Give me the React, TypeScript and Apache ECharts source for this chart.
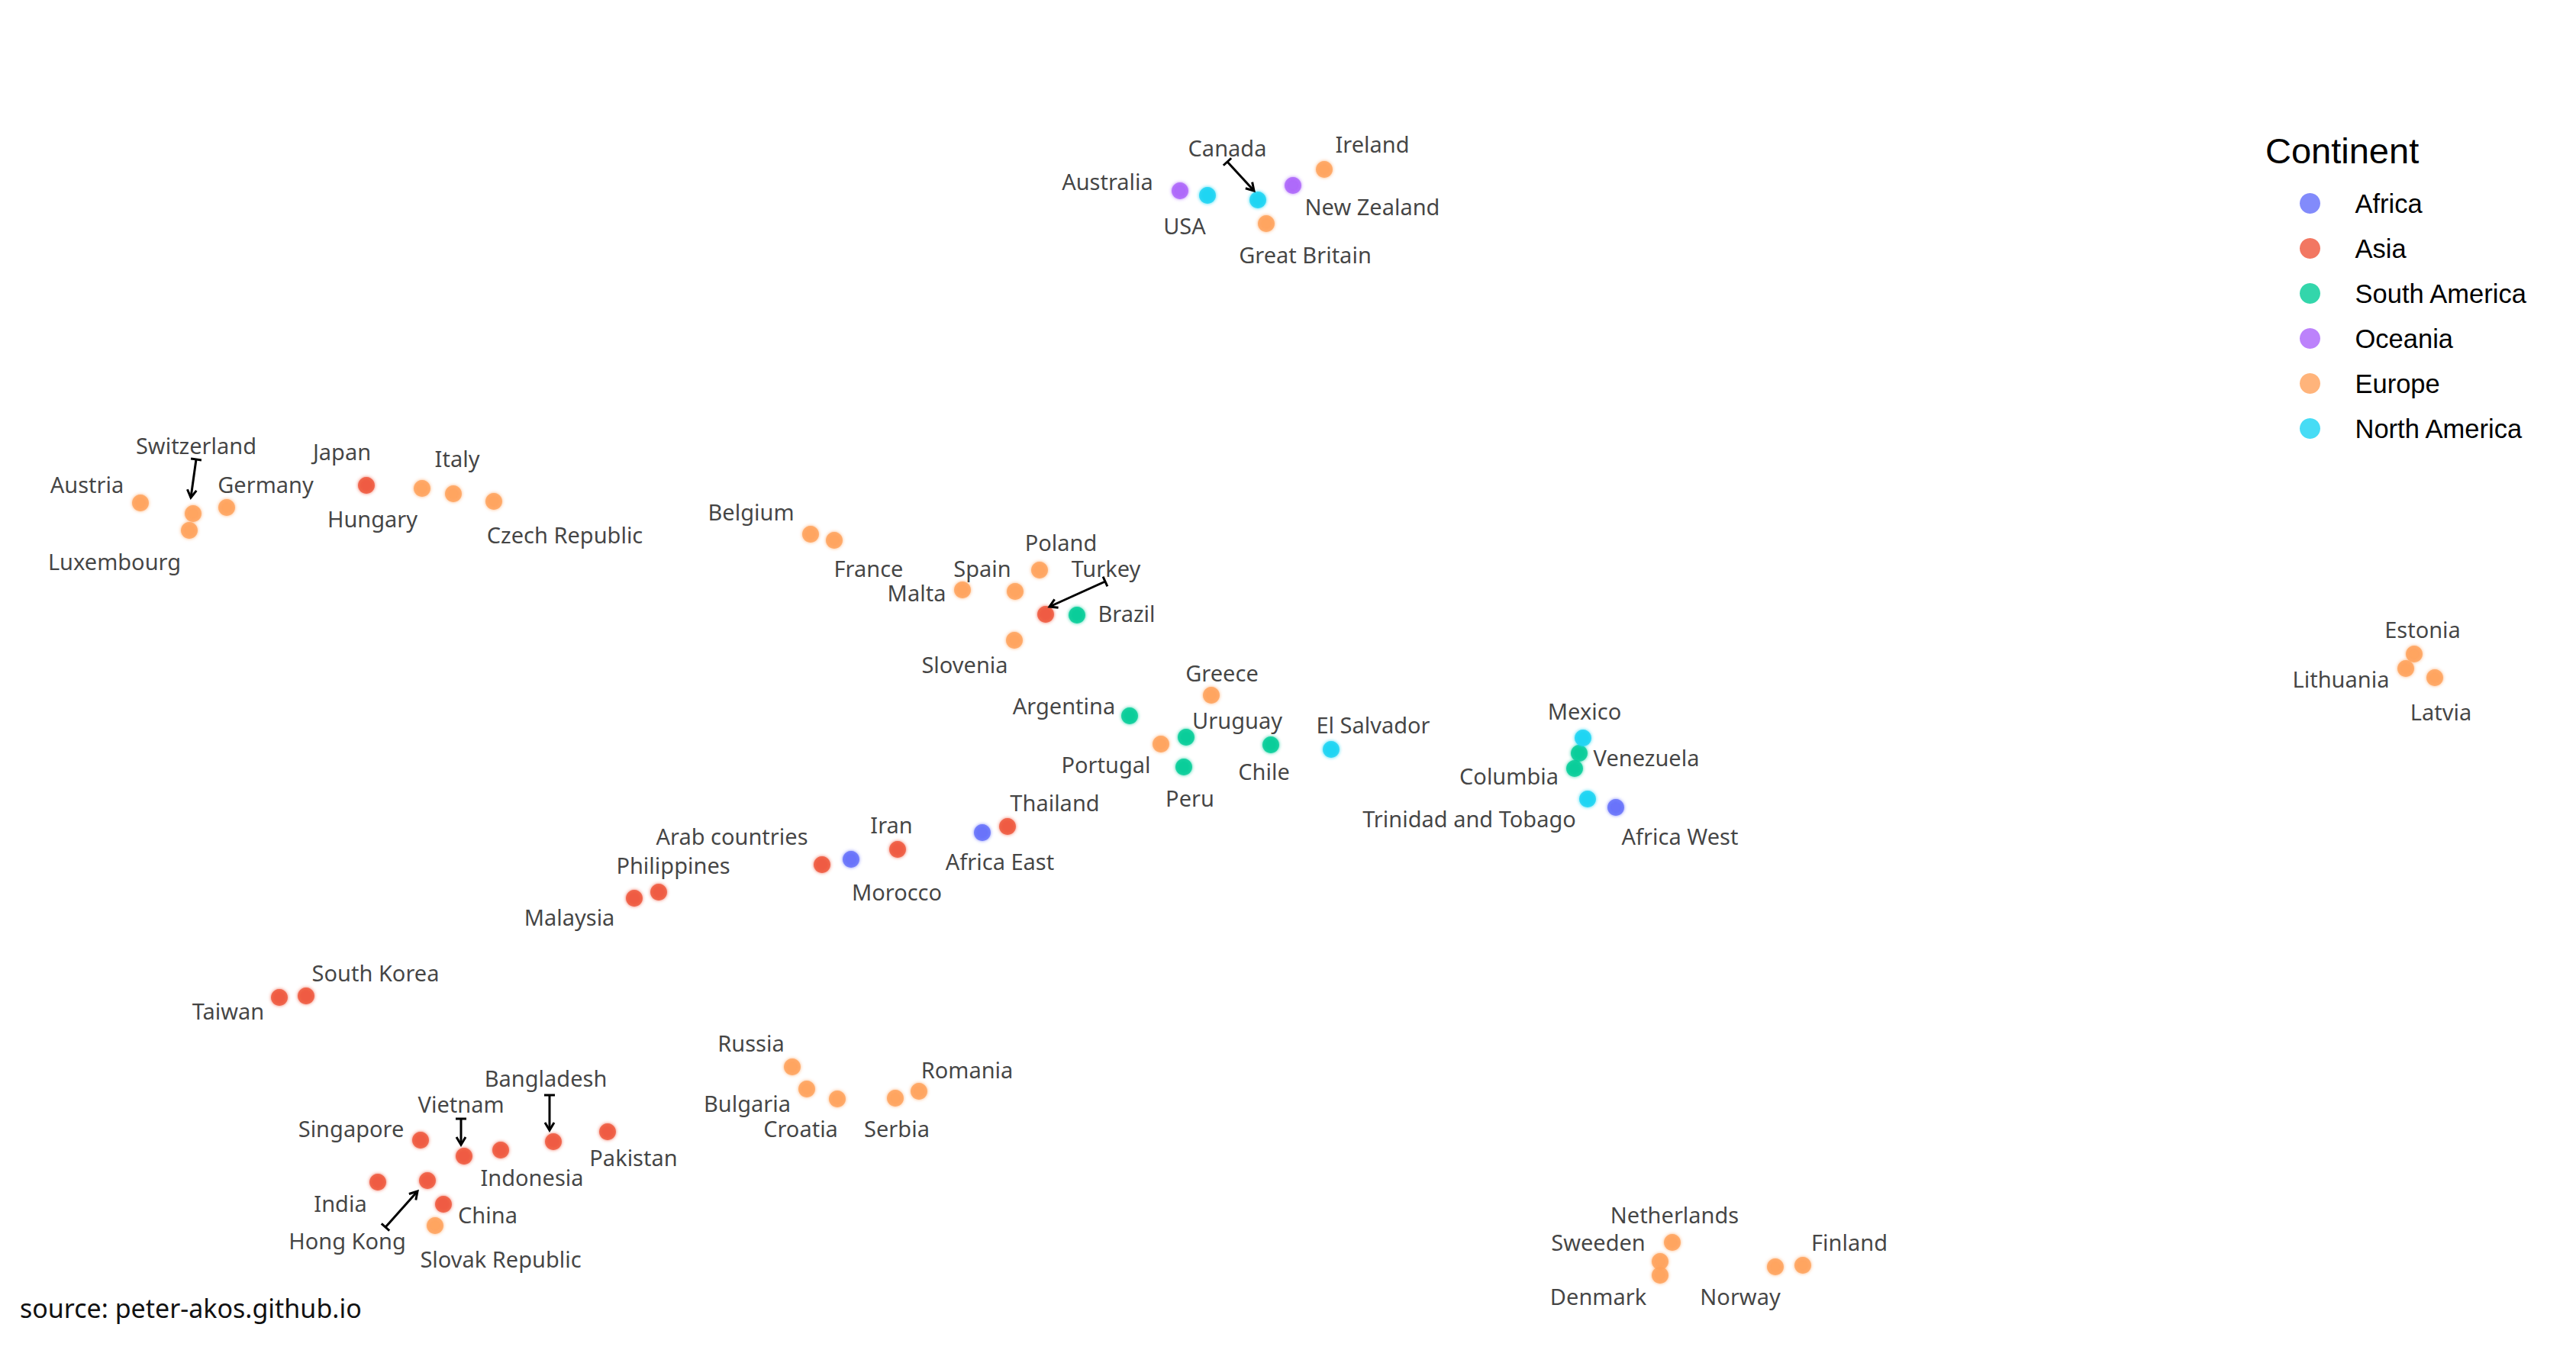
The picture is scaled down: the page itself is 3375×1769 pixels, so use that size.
import React, { useEffect, useRef } from "react";
import * as echarts from "echarts";

// ---- data ----
const COUNTRIES = [
  "Australia", "USA", "Canada", "New Zealand", "Ireland", "Great Britain",
  "Austria", "Switzerland", "Luxembourg", "Germany", "Japan", "Hungary", "Italy", "Czech Republic",
  "Belgium", "France", "Poland", "Spain", "Malta", "Turkey", "Brazil", "Slovenia",
  "Greece", "Argentina", "Uruguay", "Portugal", "Peru", "Chile", "El Salvador",
  "Mexico", "Venezuela", "Columbia", "Trinidad and Tobago", "Africa West",
  "Thailand", "Africa East", "Iran", "Morocco", "Arab countries", "Philippines", "Malaysia",
  "South Korea", "Taiwan",
  "Singapore", "Vietnam", "Indonesia", "Bangladesh", "Pakistan", "India", "Hong Kong", "China", "Slovak Republic",
  "Russia", "Bulgaria", "Croatia", "Serbia", "Romania",
  "Netherlands", "Sweeden", "Denmark", "Norway", "Finland",
  "Estonia", "Lithuania", "Latvia",
];

const X_VALUES = [
  1546, 1582, 1648, 1694, 1735, 1659,
  184, 253, 248, 297, 480, 553, 594, 647,
  1062, 1093, 1362, 1330, 1261, 1370, 1411, 1329,
  1587, 1480, 1554, 1521, 1551, 1665, 1744,
  2074, 2069, 2063, 2080, 2117,
  1320, 1287, 1176, 1115, 1077, 863, 831,
  401, 366,
  551, 608, 656, 725, 796, 495, 560, 581, 570,
  1038, 1057, 1097, 1173, 1204,
  2191, 2175, 2175, 2326, 2362,
  3163, 3152, 3190,
];

const Y_VALUES = [
  250, 256, 262, 243, 222, 293,
  659, 673, 695, 665, 636, 640, 647, 657,
  700, 708, 747, 775, 773, 805, 806, 839,
  911, 938, 966, 975, 1005, 976, 982,
  967, 987, 1007, 1047, 1058,
  1083, 1091, 1113, 1126, 1133, 1169, 1177,
  1305, 1307,
  1494, 1515, 1507, 1496, 1483, 1549, 1547, 1578, 1606,
  1398, 1427, 1440, 1439, 1430,
  1628, 1653, 1671, 1660, 1658,
  857, 876, 888,
];

const CONTINENT_OF = [
  "Oceania", "North America", "North America", "Oceania", "Europe", "Europe",
  "Europe", "Europe", "Europe", "Europe", "Asia", "Europe", "Europe", "Europe",
  "Europe", "Europe", "Europe", "Europe", "Europe", "Asia", "South America", "Europe",
  "Europe", "South America", "South America", "Europe", "South America", "South America", "North America",
  "North America", "South America", "South America", "North America", "Africa",
  "Asia", "Africa", "Asia", "Africa", "Asia", "Asia", "Asia",
  "Asia", "Asia",
  "Asia", "Asia", "Asia", "Asia", "Asia", "Asia", "Asia", "Asia", "Europe",
  "Europe", "Europe", "Europe", "Europe", "Europe",
  "Europe", "Europe", "Europe", "Europe", "Europe",
  "Europe", "Europe", "Europe",
];

const CONTINENTS = ["Africa", "Asia", "South America", "Oceania", "Europe", "North America"];

// annotation arrows: [fromX, fromY, toX, toY]
const ARROWS = [
  [1608, 212, 1643, 250],
  [257, 602, 250, 652],
  [1448, 762, 1375, 795],
  [604, 1466, 604, 1500],
  [720, 1435, 720, 1481],
  [505, 1608, 547, 1561],
];

// ---- styling / layout ----
const COLORS: Record<string, string> = {
  Africa: "#636efa",
  Asia: "#ef553b",
  "South America": "#00cc96",
  Oceania: "#ab63fa",
  Europe: "#ffa15a",
  "North America": "#19d3f3",
};

const LABEL_OFFSETS: Record<string, [number, number]> = {
  Australia: [-95, -11], USA: [-30, 41], Canada: [-40, -67], "New Zealand": [104, 29],
  Ireland: [63, -32], "Great Britain": [51, 42],
  Austria: [-70, -23], Switzerland: [4, -88], Luxembourg: [-98, 42], Germany: [51, -29],
  Japan: [-32, -43], Hungary: [-65, 41], Italy: [5, -45], "Czech Republic": [93, 45],
  Belgium: [-78, -28], France: [45, 38], Poland: [28, -35], Spain: [-43, -29], Malta: [-60, 5],
  Turkey: [79, -59], Brazil: [65, -1], Slovenia: [-65, 33], Greece: [14, -28],
  Argentina: [-86, -12], Uruguay: [67, -21], Portugal: [-72, 28], Peru: [8, 42], Chile: [-9, 36],
  "El Salvador": [55, -31], Mexico: [2, -34], Venezuela: [88, 7], Columbia: [-86, 11],
  "Trinidad and Tobago": [-155, 27], "Africa West": [84, 39],
  Thailand: [62, -30], "Africa East": [23, 39], Iran: [-8, -31], Morocco: [60, 44],
  "Arab countries": [-118, -36], Philippines: [19, -34], Malaysia: [-85, 26],
  "South Korea": [91, -29], Taiwan: [-67, 19],
  Singapore: [-91, -14], Vietnam: [-4, -67], Indonesia: [41, 37], Bangladesh: [-10, -82],
  Pakistan: [34, 35], India: [-49, 29], "Hong Kong": [-105, 80], China: [58, 15],
  "Slovak Republic": [86, 45],
  Russia: [-54, -30], Bulgaria: [-78, 20], Croatia: [-48, 40], Serbia: [2, 41], Romania: [63, -27],
  Netherlands: [3, -35], Sweeden: [-81, -24], Denmark: [-81, 29], Norway: [-46, 40], Finland: [61, -29],
  Estonia: [11, -31], Lithuania: [-85, 15], Latvia: [8, 46],
};
const LABEL_DY = -2;

const W = 3375;
const H = 1769;
const LABEL_FONT = "'Noto Sans', 'Open Sans', sans-serif";
const LEGEND_FONT = "'Liberation Sans', Arial, sans-serif";

function buildOption() {
  const scatterSeries = CONTINENTS.map((c) => {
    const data: any[] = [];
    COUNTRIES.forEach((name, i) => {
      if (CONTINENT_OF[i] !== c) return;
      const off = LABEL_OFFSETS[name] || [0, -30];
      data.push({ name, value: [X_VALUES[i], Y_VALUES[i]], label: { offset: [off[0], off[1] + LABEL_DY] } });
    });
    return {
      type: "scatter",
      name: c,
      data,
      symbol: "circle",
      symbolSize: 22,
      itemStyle: {
        color: COLORS[c],
        shadowBlur: 4,
        shadowColor: COLORS[c],
      },
      label: {
        show: true,
        position: "inside",
        formatter: "{b}",
        color: "#111",
        fontSize: 29,
        fontFamily: LABEL_FONT,
        align: "center",
        verticalAlign: "middle",
        textBorderWidth: 0,
      },
      emphasis: { disabled: true },
      z: 3,
    };
  });

  const arrowSeries = {
    type: "custom",
    name: "arrows",
    silent: true,
    z: 4,
    data: ARROWS,
    encode: { x: [0, 2], y: [1, 3] },
    renderItem: (params: any, api: any) => {
      const p1 = api.coord([api.value(0), api.value(1)]);
      const p2 = api.coord([api.value(2), api.value(3)]);
      const dx = p2[0] - p1[0];
      const dy = p2[1] - p1[1];
      const len = Math.sqrt(dx * dx + dy * dy) || 1;
      const ux = dx / len;
      const uy = dy / len;
      const nx = -uy;
      const ny = ux;
      const tee = 7;
      const head = 10;
      const hw = 6;
      const style = { stroke: "#000", lineWidth: 3, fill: null };
      return {
        type: "group",
        children: [
          { type: "line", shape: { x1: p1[0], y1: p1[1], x2: p2[0], y2: p2[1] }, style },
          {
            type: "line",
            shape: { x1: p1[0] + nx * tee, y1: p1[1] + ny * tee, x2: p1[0] - nx * tee, y2: p1[1] - ny * tee },
            style,
          },
          {
            type: "polyline",
            shape: {
              points: [
                [p2[0] - ux * head + nx * hw, p2[1] - uy * head + ny * hw],
                [p2[0], p2[1]],
                [p2[0] - ux * head - nx * hw, p2[1] - uy * head - ny * hw],
              ],
            },
            style,
          },
        ],
      };
    },
  };

  return {
    animation: false,
    backgroundColor: "#ffffff",
    grid: { left: 0, right: 0, top: 0, bottom: 0, containLabel: false },
    xAxis: { type: "value", min: 0, max: W, show: false },
    yAxis: { type: "value", min: 0, max: H, inverse: true, show: false },
    title: {
      text: "Continent",
      left: 2963,
      top: 169,
      textStyle: { fontSize: 47, fontWeight: "normal", color: "#000", fontFamily: LEGEND_FONT },
    },
    legend: {
      data: CONTINENTS,
      orient: "vertical",
      left: 3013,
      top: 249,
      padding: 0,
      icon: "circle",
      itemWidth: 108,
      itemHeight: 27,
      itemGap: 24,
      selectedMode: false,
      textStyle: { fontSize: 34.5, color: "#000", fontFamily: LEGEND_FONT, lineHeight: 27 },
    },
    graphic: [
      {
        type: "text",
        left: 26,
        top: 1697,
        style: {
          text: "source: peter-akos.github.io",
          fontSize: 34,
          fontFamily: LABEL_FONT,
          fill: "#111",
        },
      },
    ],
    series: [...scatterSeries, arrowSeries],
  };
}

export default function App() {
  const ref = useRef<HTMLDivElement>(null);
  useEffect(() => {
    document.body.style.margin = "0";
    document.body.style.overflow = "hidden";
    if (!ref.current) return;
    const chart = echarts.init(ref.current, undefined, { renderer: "svg" });
    chart.setOption(buildOption() as any);
    return () => chart.dispose();
  }, []);
  return <div ref={ref} style={{ width: W + "px", height: H + "px", background: "#fff" }} />;
}
